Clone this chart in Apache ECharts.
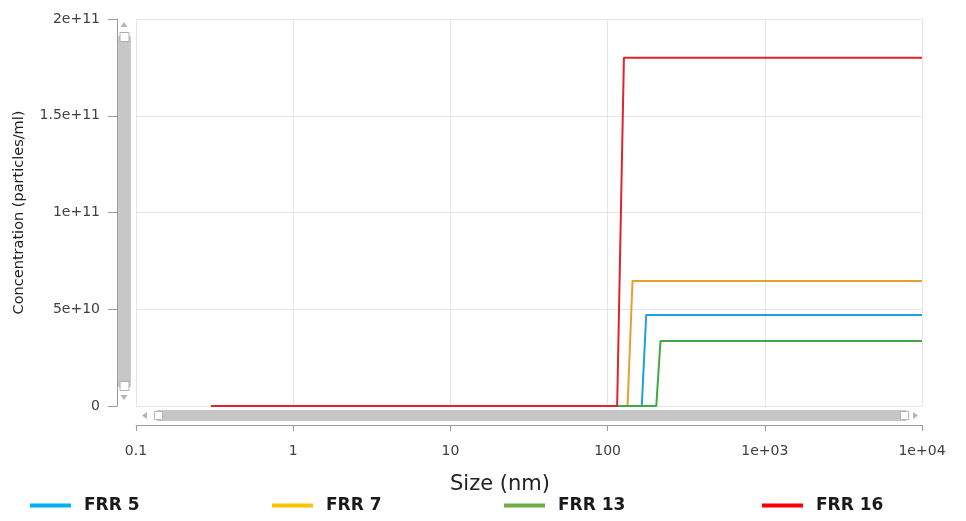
<!DOCTYPE html>
<html>
<head>
<meta charset="utf-8">
<script src="https://cdn.jsdelivr.net/npm/echarts@6/dist/echarts.min.js"></script>
<style>
  html, body { margin: 0; padding: 0; background: #fff; }
  #chart { width: 966px; height: 521px; }
</style>
</head>
<body>
<div id="chart"></div>
<script>
// Particle size distributions (size in nm, concentration in particles/ml)
const seriesNames = ['FRR 5', 'FRR 7', 'FRR 13', 'FRR 16'];

const frr5Size = [0.3, 165, 176, 10000];
const frr5Conc = [0, 0, 4.7e10, 4.7e10];

const frr7Size = [0.3, 134, 144, 10000];
const frr7Conc = [0, 0, 6.46e10, 6.46e10];

const frr13Size = [0.3, 204, 217, 10000];
const frr13Conc = [0, 0, 3.36e10, 3.36e10];

const frr16Size = [0.3, 115, 127, 10000];
const frr16Conc = [0, 0, 1.8e11, 1.8e11];

const lineColors = ['#1ca0e0', '#e5a033', '#40a944', '#e0232d'];
const legendColors = ['#00b0f0', '#ffc000', '#70ad47', '#ff0000'];
const legendLefts = [30, 272, 504, 762];

const xTicks = [0.1, 1, 10, 100, 1000, 10000];
const yTicks = [0, 5e10, 1e11, 1.5e11, 2e11];

const sizes = [frr5Size, frr7Size, frr13Size, frr16Size];
const concs = [frr5Conc, frr7Conc, frr13Conc, frr16Conc];

function pairs(xs, ys) {
  return xs.map((x, i) => [x, ys[i]]);
}

function fmtX(v) {
  if (v < 1000) return String(+v.toPrecision(6));
  const e = Math.round(Math.log10(v));
  const m = +(v / Math.pow(10, e)).toPrecision(6);
  return m + 'e+' + (e < 10 ? '0' + e : e);
}

function fmtY(v) {
  if (v === 0) return '0';
  return v.toExponential();
}

const font = '"DejaVu Sans", Verdana, sans-serif';
const labelColor = '#404040';
const barGrey = '#c6c6c6';
const arrowGrey = '#b4b4b4';

const chart = echarts.init(document.getElementById('chart'), null, { renderer: 'canvas' });

const series = seriesNames.map((name, i) => ({
  name: name,
  type: 'line',
  data: pairs(sizes[i], concs[i]),
  showSymbol: false,
  symbol: 'none',
  lineStyle: { width: 2, color: lineColors[i] },
  itemStyle: { color: lineColors[i] },
  animation: false,
  z: 2 + i
}));

const legends = seriesNames.map((name, i) => ({
  left: legendLefts[i],
  top: 497,
  padding: 0,
  data: [{ name: name, itemStyle: { color: legendColors[i] } }],
  icon: 'rect',
  itemWidth: 41,
  itemHeight: 4,
  selectedMode: false,
  textStyle: {
    fontFamily: font,
    fontWeight: 'bold',
    fontSize: 17,
    color: '#1a1a1a',
    padding: [0, 0, 0, 8]
  }
}));

// scrollbar end arrows
function arrow(points) {
  return { type: 'polygon', shape: { points: points }, style: { fill: arrowGrey }, silent: true, z: 100 };
}

const zoomCommon = {
  filterMode: 'none',
  showDetail: false,
  showDataShadow: false,
  brushSelect: false,
  moveHandleSize: 0,
  backgroundColor: barGrey,
  fillerColor: barGrey,
  borderColor: barGrey,
  handleIcon: 'path://M0,0 L10,0 L10,10 L0,10 Z',
  handleSize: '75%',
  handleStyle: { color: '#ffffff', borderColor: '#b0b0b0', borderWidth: 1 },
  emphasis: { handleStyle: { color: '#ffffff', borderColor: '#b0b0b0' } }
};

chart.setOption({
  backgroundColor: '#ffffff',
  animation: false,
  legend: legends,
  grid: { left: 136, right: 44, top: 19, bottom: 115, containLabel: false },
  xAxis: {
    type: 'log',
    logBase: 10,
    min: xTicks[0],
    max: xTicks[xTicks.length - 1],
    offset: 19,
    name: 'Size (nm)',
    nameLocation: 'middle',
    nameGap: 49,
    nameTextStyle: { fontFamily: font, fontSize: 21, color: '#222', padding: [0, 58, 0, 0] },
    axisLine: { show: true, onZero: false, lineStyle: { color: '#9a9a9a', width: 1 } },
    axisTick: { show: true, inside: false, length: 6, lineStyle: { color: '#9a9a9a' } },
    minorTick: { show: false },
    axisLabel: {
      formatter: fmtX,
      fontFamily: font,
      fontSize: 14,
      color: labelColor,
      margin: 19
    },
    splitLine: { show: true, lineStyle: { color: '#e6e6e6', width: 1 } }
  },
  yAxis: {
    type: 'value',
    min: yTicks[0],
    max: yTicks[yTicks.length - 1],
    interval: yTicks[1] - yTicks[0],
    offset: 19,
    name: 'Concentration (particles/ml)',
    nameLocation: 'middle',
    nameGap: 90,
    nameTextStyle: { fontFamily: font, fontSize: 14.5, color: '#222' },
    axisLine: { show: true, onZero: false, lineStyle: { color: '#9a9a9a', width: 1 } },
    axisTick: { show: true, inside: false, length: 9, lineStyle: { color: '#9a9a9a' } },
    axisLabel: {
      formatter: fmtY,
      fontFamily: font,
      fontSize: 14,
      color: labelColor,
      margin: 17
    },
    splitLine: { show: true, lineStyle: { color: '#e6e6e6', width: 1 } }
  },
  dataZoom: [
    Object.assign({ type: 'slider', xAxisIndex: 0, left: 156, right: 62, top: 410, height: 11 }, zoomCommon),
    Object.assign({ type: 'slider', yAxisIndex: 0, orient: 'vertical', left: 118, width: 12, top: 36, bottom: 134 }, zoomCommon)
  ],
  graphic: [
    arrow([[124, 22], [127.5, 27], [120.5, 27]]),
    arrow([[124, 400], [127.5, 395], [120.5, 395]]),
    arrow([[142, 415.5], [147, 412], [147, 419]]),
    arrow([[918, 415.5], [913, 412], [913, 419]])
  ],
  series: series
});
</script>
</body>
</html>
